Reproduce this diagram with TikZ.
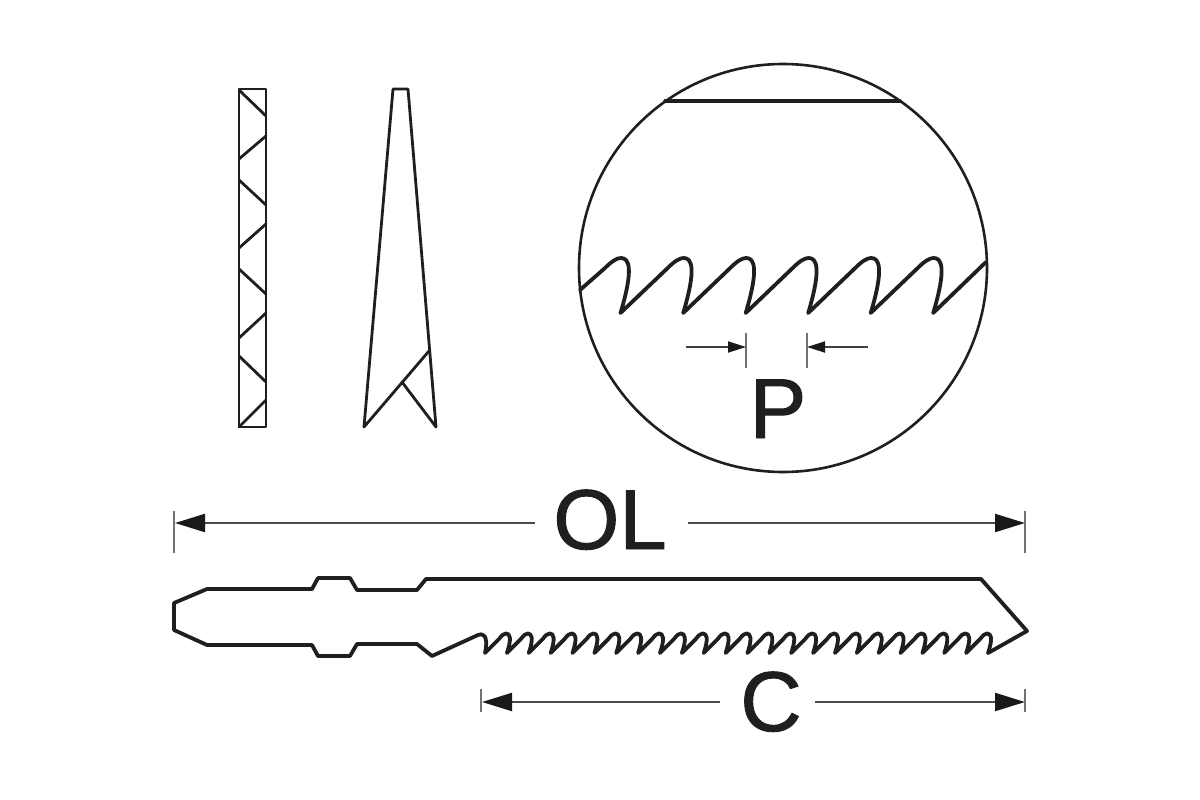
\documentclass[tikz,border=0pt]{standalone}
\usepackage{fontspec}
\setmainfont{Liberation Sans}
\newfontfamily\dimfont[FakeBold=1.1]{Liberation Sans}
\usetikzlibrary{arrows.meta}
\tikzset{
  x=1pt,y=-1pt,
  ink/.style={draw=black!88,line join=round,line cap=round},
  rectline/.style={ink,line width=2.8pt},
  bladeline/.style={ink,line width=3.8pt},
  toothline/.style={ink,line width=3.8pt},
  circline/.style={ink,line width=2.6pt},
  dimtick/.style={draw=black!55,line width=2pt},
  dimbig/.style={draw=black!70,line width=2.2pt,-{Triangle[length=30pt,width=18pt,color=black!90]}},
  dimsmall/.style={draw=black!75,line width=1.8pt,-{Triangle[length=18pt,width=11pt,color=black!90]}},
  dimlabel/.style={anchor=base,inner sep=0pt,font=\dimfont\fontsize{85}{85}\selectfont,text=black!88}
}
\begin{document}
\begin{tikzpicture}
\useasboundingbox (0,0) rectangle (1200,800);
% end view rectangle with diagonals
\draw[rectline] (239,89) rectangle (266,427);
\foreach \ax/\ay/\by in {239/90/116,239/159/136,239/180/205,239/248/224,239/269/294,239/338/313,239/356/382,239/427/400}
  \draw[ink,line width=2.8pt] (\ax,\ay) -- (266,\by);
% wedge
\draw[rectline] (364,427) -- (393,89) -- (408,89) -- (436,427) -- (402,382);
\draw[rectline] (364,427) -- (429,351);
% detail circle
\draw[circline] (783,268) circle[radius=204];
\draw[ink,line width=3.4pt] (665,101) -- (900,101);
\draw[toothline] (580,290)
  foreach \r in {558,620.7,683.2,745.7,808.2,870.7} {
    -- ({\r+47},268) .. controls ({\r+54},261) and ({\r+59},258) .. ({\r+63},258)
    .. controls ({\r+71},258) and ({\r+76},268) .. ({\r+62.5},313)
  } -- (986,262);
% blade
\draw[bladeline] (174,630) -- (174,603) -- (207,589) -- (312,589) -- (318,578) -- (350,578) -- (357,590) -- (417,590) -- (426,579) -- (981,579) -- (1027,631) -- (988,653);
\draw[toothline] (174,630) -- (207,645) -- (312,645) -- (318,656) -- (350,656) -- (357,644) -- (417,644) -- (432,656) -- (478,635)
  .. controls (482,633) and (489,634) .. (485,653)
  foreach \i in {0,...,22} {
    -- ({485+\i*21.87+14},639) .. controls ({485+\i*21.87+17},635) and ({485+\i*21.87+19},633.5) .. ({485+\i*21.87+21},633.5)
    .. controls ({485+\i*21.87+25},633.5) and ({485+\i*21.87+27},638) .. ({485+\i*21.87+21.87},653)
  };
% P dimension
\coordinate (pl) at (746,347);
\coordinate (pr) at (807,347);
\draw[dimtick] (746,333) -- (746,368);
\draw[dimtick] (807,333) -- (807,368);
\coordinate (pls) at (686,347);
\coordinate (prs) at (868,347);
\draw[dimsmall] (pls) -- (pl);
\draw[dimsmall] (prs) -- (pr);
\node[dimlabel] (P) at (778,438) {P};
% OL dimension
\node[dimlabel] (OL) at (610,549) {OL};
\coordinate (oll) at (175,523);
\coordinate (olr) at (1025,523);
\coordinate (olg) at (535,523);
\coordinate (olh) at (688,523);
\draw[dimtick] (174,511) -- (174,553);
\draw[dimtick] (1025,511) -- (1025,553);
\draw[dimbig] (olg) -- (oll);
\draw[dimbig] (olh) -- (olr);
% C dimension
\node[dimlabel] (C) at (771,731) {C};
\coordinate (cl) at (482,702);
\coordinate (cr) at (1025,702);
\coordinate (cg) at (720,702);
\coordinate (ch) at (815,702);
\draw[dimtick] (481,689) -- (481,712);
\draw[dimtick] (1025,689) -- (1025,712);
\draw[dimbig] (cg) -- (cl);
\draw[dimbig] (ch) -- (cr);
\end{tikzpicture}
\end{document}
